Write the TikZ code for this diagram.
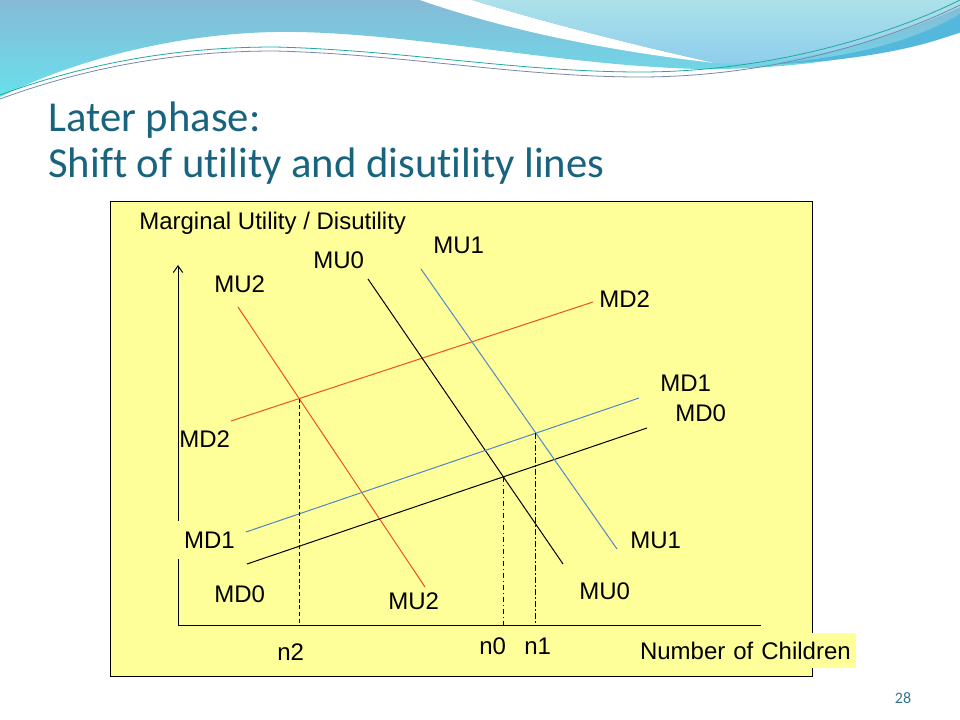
\documentclass[tikz,border=0pt]{standalone}
\usepackage{fontspec}
\setmainfont{Liberation Sans}
\newfontfamily\slidefont[Ligatures=NoCommon]{Carlito}
\usetikzlibrary{arrows.meta}
\definecolor{titleteal}{RGB}{24,100,126}
\definecolor{pagenumteal}{RGB}{52,118,146}
\definecolor{panelyellow}{RGB}{255,255,153}
\definecolor{curvered}{RGB}{240,78,36}
\definecolor{curveblue}{RGB}{79,134,198}
\definecolor{wavesteel}{RGB}{134,186,214}
\definecolor{wavecyan}{RGB}{104,224,236}
\definecolor{wavepale}{RGB}{172,225,233}
\definecolor{wavesky}{RGB}{140,204,236}
\definecolor{wavedeep}{RGB}{84,184,220}
\definecolor{wavegreen}{RGB}{30,170,160}
\definecolor{wavegrey}{RGB}{120,135,170}
\tikzset{
  titletext/.style={font=\slidefont\fontsize{32}{38}\selectfont,text=titleteal,anchor=base west,inner sep=0pt},
  lbl/.style={font=\fontsize{18}{21.6}\selectfont,anchor=base west,inner sep=0pt},
  curve/.style={line width=0.75pt},
  axisline/.style={line width=0.75pt},
  dropdash/.style={line width=0.75pt,dash pattern=on 3pt off 2pt},
  dropdashdot/.style={line width=0.75pt,dash pattern=on 4pt off 2pt on 1pt off 2pt}
}
\begin{document}
\begin{tikzpicture}[x=0.75pt,y=-0.75pt]
  \useasboundingbox (0,0) rectangle (960,720);
  \fill[white] (0,0) rectangle (960,720);
  % header waves
  \shade[top color=wavesteel,bottom color=wavecyan] (0,0) -- (960,0) -- (960,33)
    .. controls (880,56) and (790,70) .. (700,69)
    .. controls (560,66) and (400,30) .. (275,32)
    .. controls (170,34) and (70,62) .. (0,97) -- cycle;
  \fill[white] (420,0) .. controls (500,28) and (600,50) .. (715,63)
    .. controls (620,42) and (530,18) .. (472,0) -- cycle;
  \shade[top color=wavepale,bottom color=wavesky] (472,0)
    .. controls (530,18) and (620,42) .. (715,63)
    .. controls (800,68) and (900,35) .. (960,7) -- (960,0) -- cycle;
  \fill[wavedeep] (780,63) .. controls (870,55) and (925,35) .. (960,14) -- (960,32)
    .. controls (920,48) and (860,60) .. (780,64) -- cycle;
  \draw[wavegreen,line width=0.6pt] (0,95) .. controls (90,62) and (180,47) .. (275,47)
    .. controls (400,50) and (520,72) .. (640,72) .. controls (780,72) and (900,30) .. (960,0);
  \draw[wavegrey,line width=0.6pt] (0,99) .. controls (90,66) and (180,51) .. (275,51)
    .. controls (400,54) and (520,77) .. (640,77) .. controls (780,77) and (900,35) .. (960,5);

  \node[titletext] (title1) at (48,132) {Later phase:};
  \node[titletext] (title2) at (48,178) {Shift of utility and disutility lines};

  % chart panel
  \draw[fill=panelyellow,line width=0.75pt] (110.5,201.5) rectangle (812.5,676.5);

  \coordinate (O) at (178,625);
  \coordinate (ytip) at (178,265);
  \coordinate (xend) at (761,625);

  \coordinate (mu2a) at (238,307); \coordinate (mu2b) at (425,587);
  \coordinate (md2a) at (231,421); \coordinate (md2b) at (593,302);
  \coordinate (mu0a) at (368,279); \coordinate (mu0b) at (563,564);
  \coordinate (md0a) at (247,564); \coordinate (md0b) at (647,428);
  \coordinate (mu1a) at (421,269); \coordinate (mu1b) at (617,549);
  \coordinate (md1a) at (246,532); \coordinate (md1b) at (639,398);

  \draw[curve,curvered] (mu2a) -- (mu2b);
  \draw[curve,curvered] (md2a) -- (md2b);
  \draw[curve] (mu0a) -- (mu0b);
  \draw[curve] (md0a) -- (md0b);
  \draw[curve,curveblue] (mu1a) -- (mu1b);
  \draw[curve,curveblue] (md1a) -- (md1b);

  \coordinate (eq2) at (intersection of mu2a--mu2b and md2a--md2b);
  \coordinate (eq0) at (intersection of mu0a--mu0b and md0a--md0b);
  \coordinate (eq1) at (intersection of mu1a--mu1b and md1a--md1b);
  \draw[dropdash] (eq2) -- (eq2 |- O);
  \draw[dropdashdot] (eq0) -- (eq0 |- O);
  \draw[dropdashdot] (eq1) -- (eq1 |- O);

  \draw[-{Straight Barb[length=5pt,width=7pt]},axisline] (O) -- (ytip);
  \draw[axisline] (O) -- (xend);

  \node[lbl] (ylabel) at (139,230) {Marginal Utility / Disutility};
  \node[lbl] (mu2top) at (214,292) {MU2};
  \node[lbl] (mu0top) at (313,269) {MU0};
  \node[lbl] (mu1top) at (433,254) {MU1};
  \node[lbl] (md2right) at (599,307) {MD2};
  \node[lbl] (md1right) at (660,391) {MD1};
  \node[lbl] (md0right) at (675,421) {MD0};
  \node[lbl] (md2left) at (179,447) {MD2};
  \node[lbl,anchor=base,fill=panelyellow,inner xsep=7.5pt,inner ysep=8pt] (md1left) at (209.5,548) {MD1};
  \node[lbl] (md0left) at (214,602) {MD0};
  \node[lbl] (mu2bot) at (388,609) {MU2};
  \node[lbl] (mu0bot) at (579,599) {MU0};
  \node[lbl] (mu1bot) at (630,548) {MU1};
  \node[lbl] (n2) at (277,660) {n2};
  \node[lbl] (n0) at (479,654) {n0};
  \node[lbl] (n1) at (524,654) {n1};
  \node[lbl,anchor=base,fill=panelyellow,text width=160.5pt,align=left,inner xsep=1.5pt,inner ysep=6.5pt] (xlabel) at (747,659) {\mbox{Number of Children}};

  \node[font=\slidefont\fontsize{12}{14}\selectfont,text=pagenumteal,anchor=base] (pagenum) at (903,703) {28};
\end{tikzpicture}
\end{document}
